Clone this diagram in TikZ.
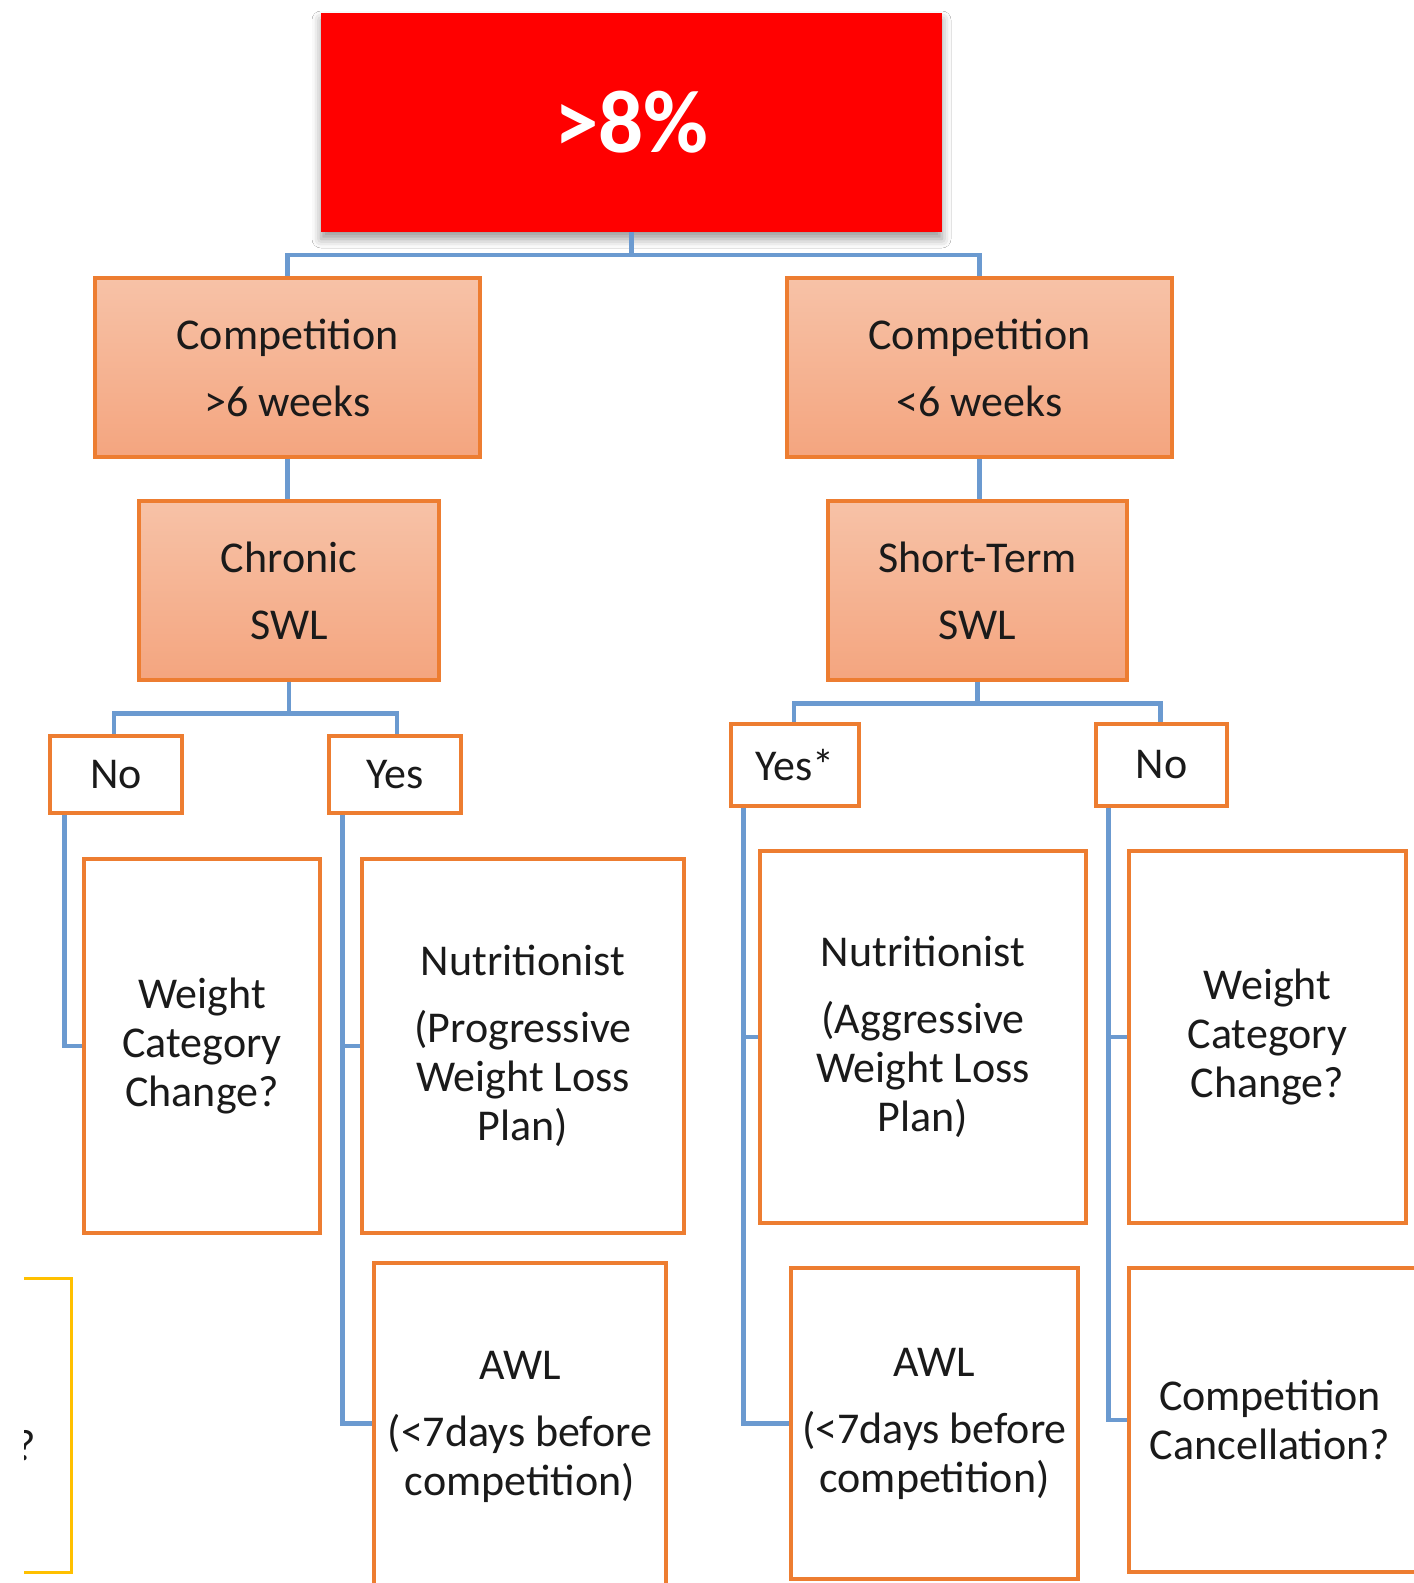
\documentclass[tikz,border=0pt]{standalone}
\usepackage{fontspec}
\setmainfont{Carlito}
\usetikzlibrary{calc,shadows.blur}

\definecolor{boxorange}{HTML}{ED7D31}
\definecolor{salmontop}{HTML}{F7C2A7}
\definecolor{salmonbot}{HTML}{F4A57F}
\definecolor{linkblue}{HTML}{6B9AD0}
\definecolor{alertred}{HTML}{FF0000}
\definecolor{goldline}{HTML}{FFC000}
\definecolor{ink}{HTML}{1A1A1A}

\tikzset{
  basebox/.style={rectangle, inner sep=0pt, align=center, text=ink,
    font=\fontsize{44}{49}\selectfont},
  alertbox/.style={basebox, fill=alertred, text=white,
    font=\fontsize{89}{96}\selectfont\bfseries,
    blur shadow={shadow xshift=0pt, shadow yshift=-7pt,
      shadow blur radius=9pt, shadow opacity=40}},
  stagebox/.style={basebox, draw=boxorange, line width=3.1pt,
    top color=salmontop, bottom color=salmonbot,
    font=\fontsize{44}{67}\selectfont},
  answerbox/.style={basebox, draw=boxorange, line width=3.1pt, fill=white},
  actionbox/.style={basebox, draw=boxorange, line width=3.1pt, fill=white},
  conn/.style={draw=linkblue, line width=4.4pt},
}

\begin{document}
\begin{tikzpicture}[x=1pt,y=1pt]
\useasboundingbox (0,0) rectangle (1414,-1583);
\clip (0,0) rectangle (1414,-1583);
\fill[white] (0,0) rectangle (1414,-1583);

% top level
\node[alertbox, minimum width=621, minimum height=219] (top) at (631.5,-122.5) {>8\%};

% time to competition
\node[stagebox, minimum width=385, minimum height=179] (compL) at (287.5,-367.5) {Competition\\>6 weeks};
\node[stagebox, minimum width=385, minimum height=179] (compR) at (979.5,-367.5) {Competition\\<6 weeks};

% weight loss type
\node[stagebox, minimum width=300, minimum height=179] (chronic) at (289,-590.5) {Chronic\\SWL};
\node[stagebox, minimum width=299, minimum height=179] (short) at (977.5,-590.5) {Short-Term\\SWL};

% answers
\node[answerbox, minimum width=132, minimum height=77] (noL) at (116,-774.5) {No};
\node[answerbox, minimum width=132, minimum height=77] (yesL) at (395,-774.5) {Yes};
\node[answerbox, minimum width=128, minimum height=82] (yesS) at (795,-765) {Yes*};
\node[answerbox, minimum width=131, minimum height=82] (noR) at (1161.5,-765) {No};

% actions, left side
\node[actionbox, minimum width=236, minimum height=374] (wccL) at (202,-1046) {Weight\\Category\\Change?};
\node[actionbox, minimum width=322, minimum height=374] (nutP) at (523,-1046)
  {Nutritionist\\[18pt](Progressive\\Weight Loss\\Plan)};
\node[actionbox, minimum width=292, minimum height=327] (awlL) at (520,-1426.5)
  {AWL\\[18pt](<7days before\\competition)};

% actions, right side
\node[actionbox, minimum width=326, minimum height=372] (nutA) at (923,-1037)
  {Nutritionist\\[18pt](Aggressive\\Weight Loss\\Plan)};
\node[actionbox, minimum width=287, minimum height=311] (awlR) at (934.5,-1423.5)
  {AWL\\[18pt](<7days before\\competition)};
\node[actionbox, minimum width=277, minimum height=372] (wccR) at (1267.5,-1037) {Weight\\Category\\Change?};
% this box runs past the right edge, so its text sits left of the box centre
\node[actionbox, minimum width=296, minimum height=304] (cancel) at (1277,-1420)
  {\hspace*{-14pt}Competition\\\hspace*{-14pt}Cancellation?};

% partly visible box at the left edge
\begin{scope}
  \clip (24,-1200) rectangle (120,-1583);
  \draw[goldline, line width=3pt] (0,-1278) -- (71,-1278) -- (71,-1572) -- (0,-1572);
  \node[basebox, anchor=east] (edgeq) at (36,-1446) {?};
\end{scope}

% connectors
\coordinate (j1) at (631.5,-255);
\draw[conn] (top.south) -- (j1) -| (compL.north);
\draw[conn] (j1) -| (compR.north);
\draw[conn] (compL.south) -- (compL.south |- chronic.north);
\draw[conn] (compR.south) -- (compR.south |- short.north);

\draw[conn] (chronic.south) -- ++(0,-32) -| ($(noL.north)+(-2,0)$);
\draw[conn] (chronic.south) -- ++(0,-32) -| ($(yesL.north)+(2,0)$);
\draw[conn] (short.south) -- ++(0,-22) -| ($(yesS.north)+(-1,0)$);
\draw[conn] (short.south) -- ++(0,-22) -| ($(noR.north)+(-1,0)$);

\draw[conn] ($(noL.south west)+(16,0)$) |- (wccL.west);
\draw[conn] ($(yesL.south west)+(15,0)$) |- (nutP.west);
\draw[conn] ($(yesL.south west)+(15,0)$) |- ($(awlL.west)+(0,3)$);
\draw[conn] ($(yesS.south west)+(14,0)$) |- (nutA.west);
\draw[conn] ($(yesS.south west)+(14,0)$) |- (awlR.west);
\draw[conn] ($(noR.south west)+(14,0)$) |- (wccR.west);
\draw[conn] ($(noR.south west)+(14,0)$) |- (cancel.west);
\end{tikzpicture}
\end{document}
